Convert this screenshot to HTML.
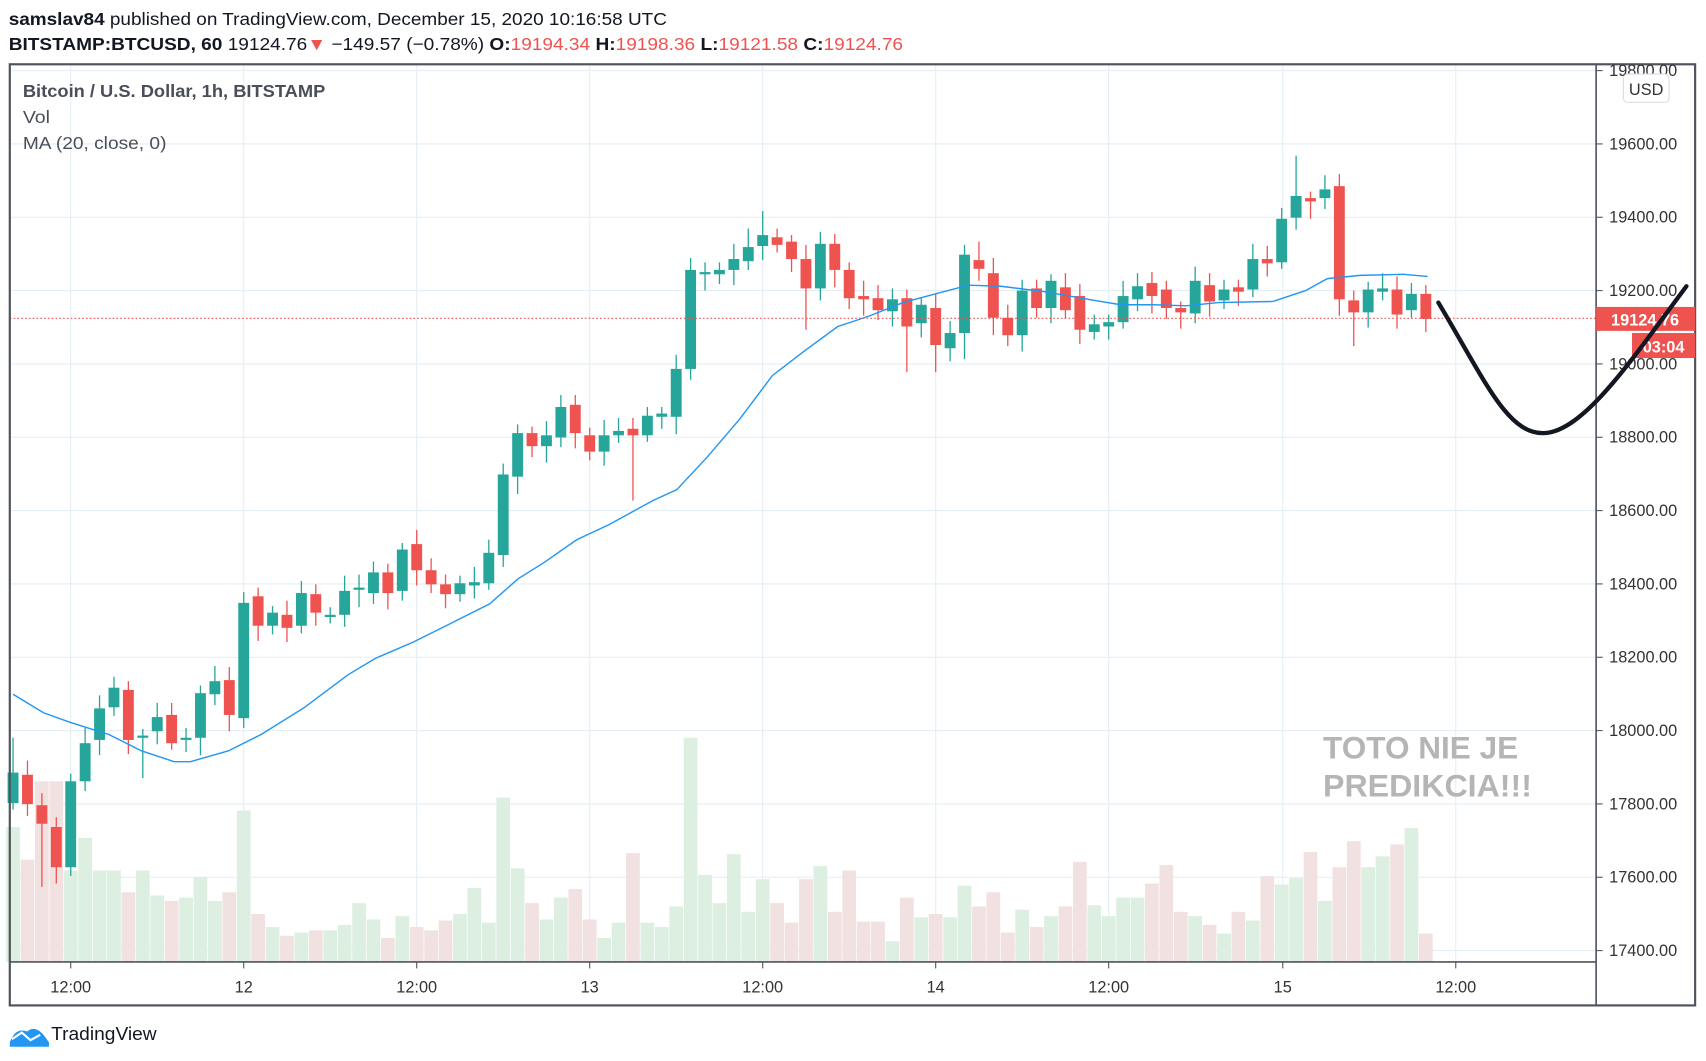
<!DOCTYPE html>
<html><head><meta charset="utf-8">
<style>
html,body{margin:0;padding:0;background:#fff;width:1706px;height:1061px;overflow:hidden}
svg{display:block}
text{font-family:"Liberation Sans",sans-serif}
</style></head>
<body>
<svg id="s" width="1706" height="1061" viewBox="0 0 1568 975" xmlns="http://www.w3.org/2000/svg">
<rect width="1568" height="975" fill="#fff"/>
<g id="grid" stroke="#e3eef5" stroke-width="1"></g>
<g id="vol"></g>
<g id="candles"></g>
<polyline id="ma" fill="none" stroke="#2196f3" stroke-width="1.3"/>
<line x1="9" y1="292.5" x2="1467" y2="292.5" stroke="#ef5350" stroke-width="1" stroke-dasharray="1.5,2"/>
<rect x="9" y="59" width="1549" height="865" fill="none" stroke="#50535e" stroke-width="2"/>
<line x1="1467" y1="59" x2="1467" y2="924" stroke="#50535e" stroke-width="1.5"/>
<line x1="9" y1="884" x2="1467" y2="884" stroke="#50535e" stroke-width="1.5"/>
<g id="axis" font-size="15" fill="#333"></g>
<rect x="1492" y="68" width="42" height="26" rx="4" fill="#fff" stroke="#d6dce4"/>
<text x="1513" y="87" font-size="15" fill="#333" text-anchor="middle">USD</text>
<rect x="1467" y="282" width="91" height="22" fill="#ef5350"/>
<text x="1512" y="299" font-size="15" font-weight="bold" fill="#fff" text-anchor="middle">19124.76</text>
<rect x="1500" y="306" width="58" height="23" fill="#ef5350"/>
<text x="1529" y="324" font-size="15" font-weight="bold" fill="#fff" text-anchor="middle">03:04</text>
<path d="M1322,278 C1365,350 1385,398 1418,398 C1455,398 1500,330 1550,263" fill="none" stroke="#131722" stroke-width="4" stroke-linecap="round"/>
<text x="1216" y="697" font-size="29" font-weight="bold" fill="#b5b5b5">TOTO NIE JE</text>
<text x="1216" y="732" font-size="29" font-weight="bold" fill="#b5b5b5" textLength="192" lengthAdjust="spacingAndGlyphs">PREDIKCIA!!!</text>
<text x="8" y="23" font-size="16" fill="#131722" textLength="605" lengthAdjust="spacingAndGlyphs"><tspan font-weight="bold">samslav84</tspan> published on TradingView.com, December 15, 2020 10:16:58 UTC</text>
<text x="8" y="46" font-size="16" fill="#131722" textLength="822" lengthAdjust="spacingAndGlyphs"><tspan font-weight="bold">BITSTAMP:BTCUSD, 60</tspan> 19124.76<tspan fill="#ef5350">▼</tspan> −149.57 (−0.78%) <tspan font-weight="bold">O:</tspan><tspan fill="#ef5350">19194.34</tspan> <tspan font-weight="bold">H:</tspan><tspan fill="#ef5350">19198.36</tspan> <tspan font-weight="bold">L:</tspan><tspan fill="#ef5350">19121.58</tspan> <tspan font-weight="bold">C:</tspan><tspan fill="#ef5350">19124.76</tspan></text>
<text x="21" y="89" font-size="16" font-weight="bold" fill="#4a4e59" textLength="278" lengthAdjust="spacingAndGlyphs">Bitcoin / U.S. Dollar, 1h, BITSTAMP</text>
<text x="21" y="113" font-size="16" fill="#4a4e59" textLength="25" lengthAdjust="spacingAndGlyphs">Vol</text>
<text x="21" y="137" font-size="16" fill="#4a4e59" textLength="132" lengthAdjust="spacingAndGlyphs">MA (20, close, 0)</text>
<path d="M9,958 q5,-14 16,-10 q7,-6 15,3 l5,7 v4 h-36 z" fill="#2196f3"/>
<path d="M11,955 l9,-6 l8,7 l9,-5" fill="none" stroke="#fff" stroke-width="2"/>
<text x="47" y="956" font-size="17" fill="#131722" textLength="97" lengthAdjust="spacingAndGlyphs">TradingView</text>
</svg>
<script>
var NS="http://www.w3.org/2000/svg";
function el(p,t,a){var e=document.createElementNS(NS,t);for(var k in a)e.setAttribute(k,a[k]);document.getElementById(p).appendChild(e);return e;}
var prices=[19800,19600,19400,19200,19000,18800,18600,18400,18200,18000,17800,17600,17400];
function py(p){return 267+(19200-p)*0.337;}
prices.forEach(function(p){var y=py(p);el("grid","line",{x1:9,x2:1467,y1:y,y2:y});
 el("axis","line",{x1:1467,x2:1473,y1:y,y2:y,stroke:"#50535e"});
 var t=el("axis","text",{x:1479,y:y+5});t.textContent=p.toFixed(2);});
var vx=[[65,"12:00"],[224,"12"],[383,"12:00"],[542,"13"],[701,"12:00"],[860,"14"],[1019,"12:00"],[1179,"15"],[1338,"12:00"]];
vx.forEach(function(v){el("grid","line",{x1:v[0],x2:v[0],y1:59,y2:884});
 el("axis","line",{x1:v[0],x2:v[0],y1:884,y2:890,stroke:"#50535e"});
 var t=el("axis","text",{x:v[0],y:912,"text-anchor":"middle"});t.textContent=v[1];});
var C=[[738,710],[712,739],[740,757],[760,797],[797,718],[718,683],[680,651],[650,632],[634,680],[677,676],[672,659],[657,683],[679,678],[678,637],[638,626],[625,657],[660,554],[548,575],[575,563],[565,577],[575,545],[546,563],[566,565],[565,543],[541,540],[545,526],[526,545],[543,505],[500,524],[524,537],[537,546],[546,536],[538,535],[536,508],[510,436],[438,398],[398,410],[410,400],[402,374],[372,398],[400,415],[415,400],[400,396],[394,400],[400,382],[383,380],[383,339],[339,248],[251,250],[252,248],[248,238],[240,227],[226,216],[218,225],[222,238],[238,265],[265,224],[224,248],[248,274],[272,275],[274,285],[286,275],[274,300],[297,280],[283,317],[320,306],[306,234],[239,247],[251,292],[292,308],[308,267],[265,283],[283,258],[264,285],[272,303],[305,298],[300,296],[296,272],[275,263],[260,272],[266,283],[283,287],[288,258],[262,277],[276,266],[264,268],[266,238],[238,242],[241,201],[200,180],[182,185],[182,174],[171,275],[276,287],[287,266],[268,265],[266,289],[285,270],[270,293]];
var special={"-2":[null,815],"5":[null,715],"39":[null,460],"51":[null,303],"58":[null,342],"60":[null,342],"85":[143,null],"89":[null,318],"-4":[678,null],"-1":[null,812],"0":[null,805],"63":[222,null],"48":[194,null],"47":[210,null],"62":[null,330]};
var V=[760,790,718,718,800,770,800,800,820,800,823,828,825,806,828,820,745,840,852,860,857,855,855,850,830,845,862,842,852,855,846,840,816,848,733,798,830,845,825,817,845,862,848,784,848,852,833,678,804,830,785,838,808,830,848,808,796,838,800,847,847,865,825,843,840,843,814,833,820,857,836,852,842,833,792,832,842,825,825,812,795,838,842,850,858,838,846,805,813,807,783,828,797,773,797,787,776,761,858];
C.forEach(function(c,i){
 var h=i-4,x=65+h*13.25,o=c[0],cl=c[1],up=cl<=o;
 var col=up?"#26a69a":"#ef5350";
 var top=Math.min(o,cl),bot=Math.max(o,cl);if(bot-top<2){bot=top+2;}
 var hi=top-6-(i*7%9),lo=bot+6+(i*5%11);
 var s=special[h];if(s){if(s[0])hi=s[0];if(s[1])lo=s[1];}
 var vt=V[i];
 el("vol","rect",{x:x-6.3,y:vt,width:12.6,height:884-vt,fill:up?"#dcefe1":"#f1e1e1"});
 el("candles","line",{x1:x,x2:x,y1:hi,y2:lo,stroke:col,"stroke-width":1.2});
 el("candles","rect",{x:x-5,y:top,width:10,height:bot-top,fill:col});
});
var M=[[12,638],[40,655],[65,664],[100,675],[130,690],[160,700],[175,700],[210,690],[240,675],[280,650],[320,620],[345,605],[380,590],[410,575],[450,555],[476,532],[500,517],[530,496],[560,482],[600,460],[622,450],[650,420],[680,385],[710,345],[740,322],[770,300],[800,290],[830,278],[860,270],[890,262],[920,263],[960,268],[1000,275],[1030,280],[1060,280],[1090,281],[1120,278],[1170,277],[1200,267],[1220,256],[1250,253],[1290,252],[1312,254]];
document.getElementById("ma").setAttribute("points",M.map(function(p){return p.join(",");}).join(" "));
</script>
</body></html>
